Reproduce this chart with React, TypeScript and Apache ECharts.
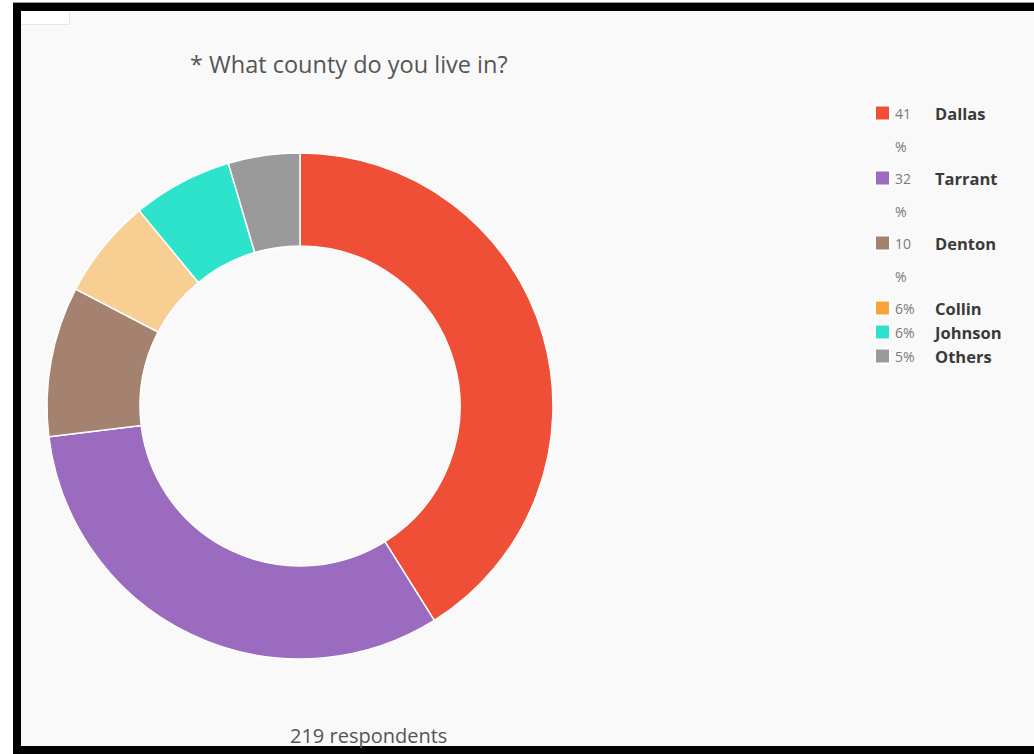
import React, { useEffect, useRef } from "react";
import * as echarts from "echarts";

const titleText = "* What county do you live in?";
const footerText = "219 respondents";
const counties = ["Dallas", "Tarrant", "Denton", "Collin", "Johnson", "Others"];
const counts = [90, 70, 21, 14, 14, 10];
const percentLabels = ["41%", "32%", "10%", "6%", "6%", "5%"];
const sliceColors = ["#ee4f36", "#9b6bbf", "#a58170", "#f8cf92", "#2ee3cc", "#9a9a9a"];
const iconColors = ["#ee4f36", "#9b6bbf", "#a58170", "#f7a43c", "#2ee3cc", "#9a9a9a"];

const FONT = "'Open Sans', 'Noto Sans', sans-serif";

export default function App() {
  const ref = useRef<HTMLDivElement>(null);

  useEffect(() => {
    document.documentElement.style.overflow = "hidden";
    document.documentElement.style.background = "#ffffff";
    document.body.style.margin = "0";
    document.body.style.overflow = "hidden";
    if (!ref.current) return;
    const chart = echarts.init(ref.current, undefined, { renderer: "svg" });

    const lineH = 33;
    const wrappedItemH = 65;
    const singleItemH = 24;
    const legendLeft = 874;
    const legends: any[] = [];
    let center = 113;
    counties.forEach((name, i) => {
      const pct = percentLabels[i];
      const wraps = pct.length > 2;
      const top = wraps ? center - 1.5 * lineH : center - lineH / 2;
      legends.push({
        data: [{ name, itemStyle: { color: iconColors[i] } }],
        left: legendLeft,
        top,
        padding: 0,
        orient: "vertical",
        itemWidth: 15,
        itemHeight: 15,
        icon: "rect",
        selectedMode: false,
        formatter: () =>
          wraps
            ? `{p| }\n{p|${pct.slice(0, -1)}}{n|${name}}\n{p|%}`
            : `{p|${pct}}{n|${name}}`,
        textStyle: {
          lineHeight: lineH,
          fontFamily: FONT,
          rich: {
            p: { width: 40, fontSize: 14, color: "#7a7a7a", fontFamily: FONT, lineHeight: lineH },
            n: { fontSize: 16.5, fontWeight: "bold", color: "#3a3a3a", fontFamily: FONT, lineHeight: lineH },
          },
        },
      });
      center += wraps ? wrappedItemH : singleItemH;
    });

    chart.setOption({
      animation: false,
      title: [
        {
          text: titleText,
          left: 190,
          top: 51,
          padding: 0,
          textStyle: { fontSize: 23.5, lineHeight: 26, fontWeight: "normal", color: "#555", fontFamily: FONT },
        },
        {
          text: footerText,
          left: 290,
          top: 724,
          padding: 0,
          textStyle: { fontSize: 20, lineHeight: 22, fontWeight: "normal", color: "#555", fontFamily: FONT },
        },
      ],
      legend: legends,
      series: [
        {
          type: "pie",
          center: [300, 406],
          radius: [160, 253],
          startAngle: 90,
          clockwise: true,
          label: { show: false },
          labelLine: { show: false },
          emphasis: { disabled: true },
          itemStyle: { borderColor: "#ffffff", borderWidth: 1.5 },
          data: counties.map((name, i) => ({
            name,
            value: counts[i],
            itemStyle: { color: sliceColors[i] },
          })),
        },
      ],
    });

    return () => chart.dispose();
  }, []);

  return (
    <div style={{ position: "fixed", left: 0, top: 0, width: 1034, height: 754, overflow: "hidden", background: "#ffffff" }}>
      <div
        style={{
          position: "absolute",
          left: 13,
          top: 2,
          width: 1021,
          height: 1,
          background: "#9a9a9a",
        }}
      />
      <div
        style={{
          position: "absolute",
          left: 13,
          top: 3,
          width: 1013,
          height: 735,
          borderLeft: "8px solid #000",
          borderTop: "8px solid #000",
          borderBottom: "8px solid #000",
          borderRight: "none",
          background: "#f9f9f9",
        }}
      />
      <div
        style={{
          position: "absolute",
          left: 21,
          top: 11,
          width: 48,
          height: 13,
          background: "#ffffff",
          borderRight: "1px solid #e6e6e6",
          borderBottom: "1px solid #e6e6e6",
        }}
      />
      <div ref={ref} style={{ position: "absolute", left: 0, top: 0, width: 1034, height: 754 }} />
    </div>
  );
}
